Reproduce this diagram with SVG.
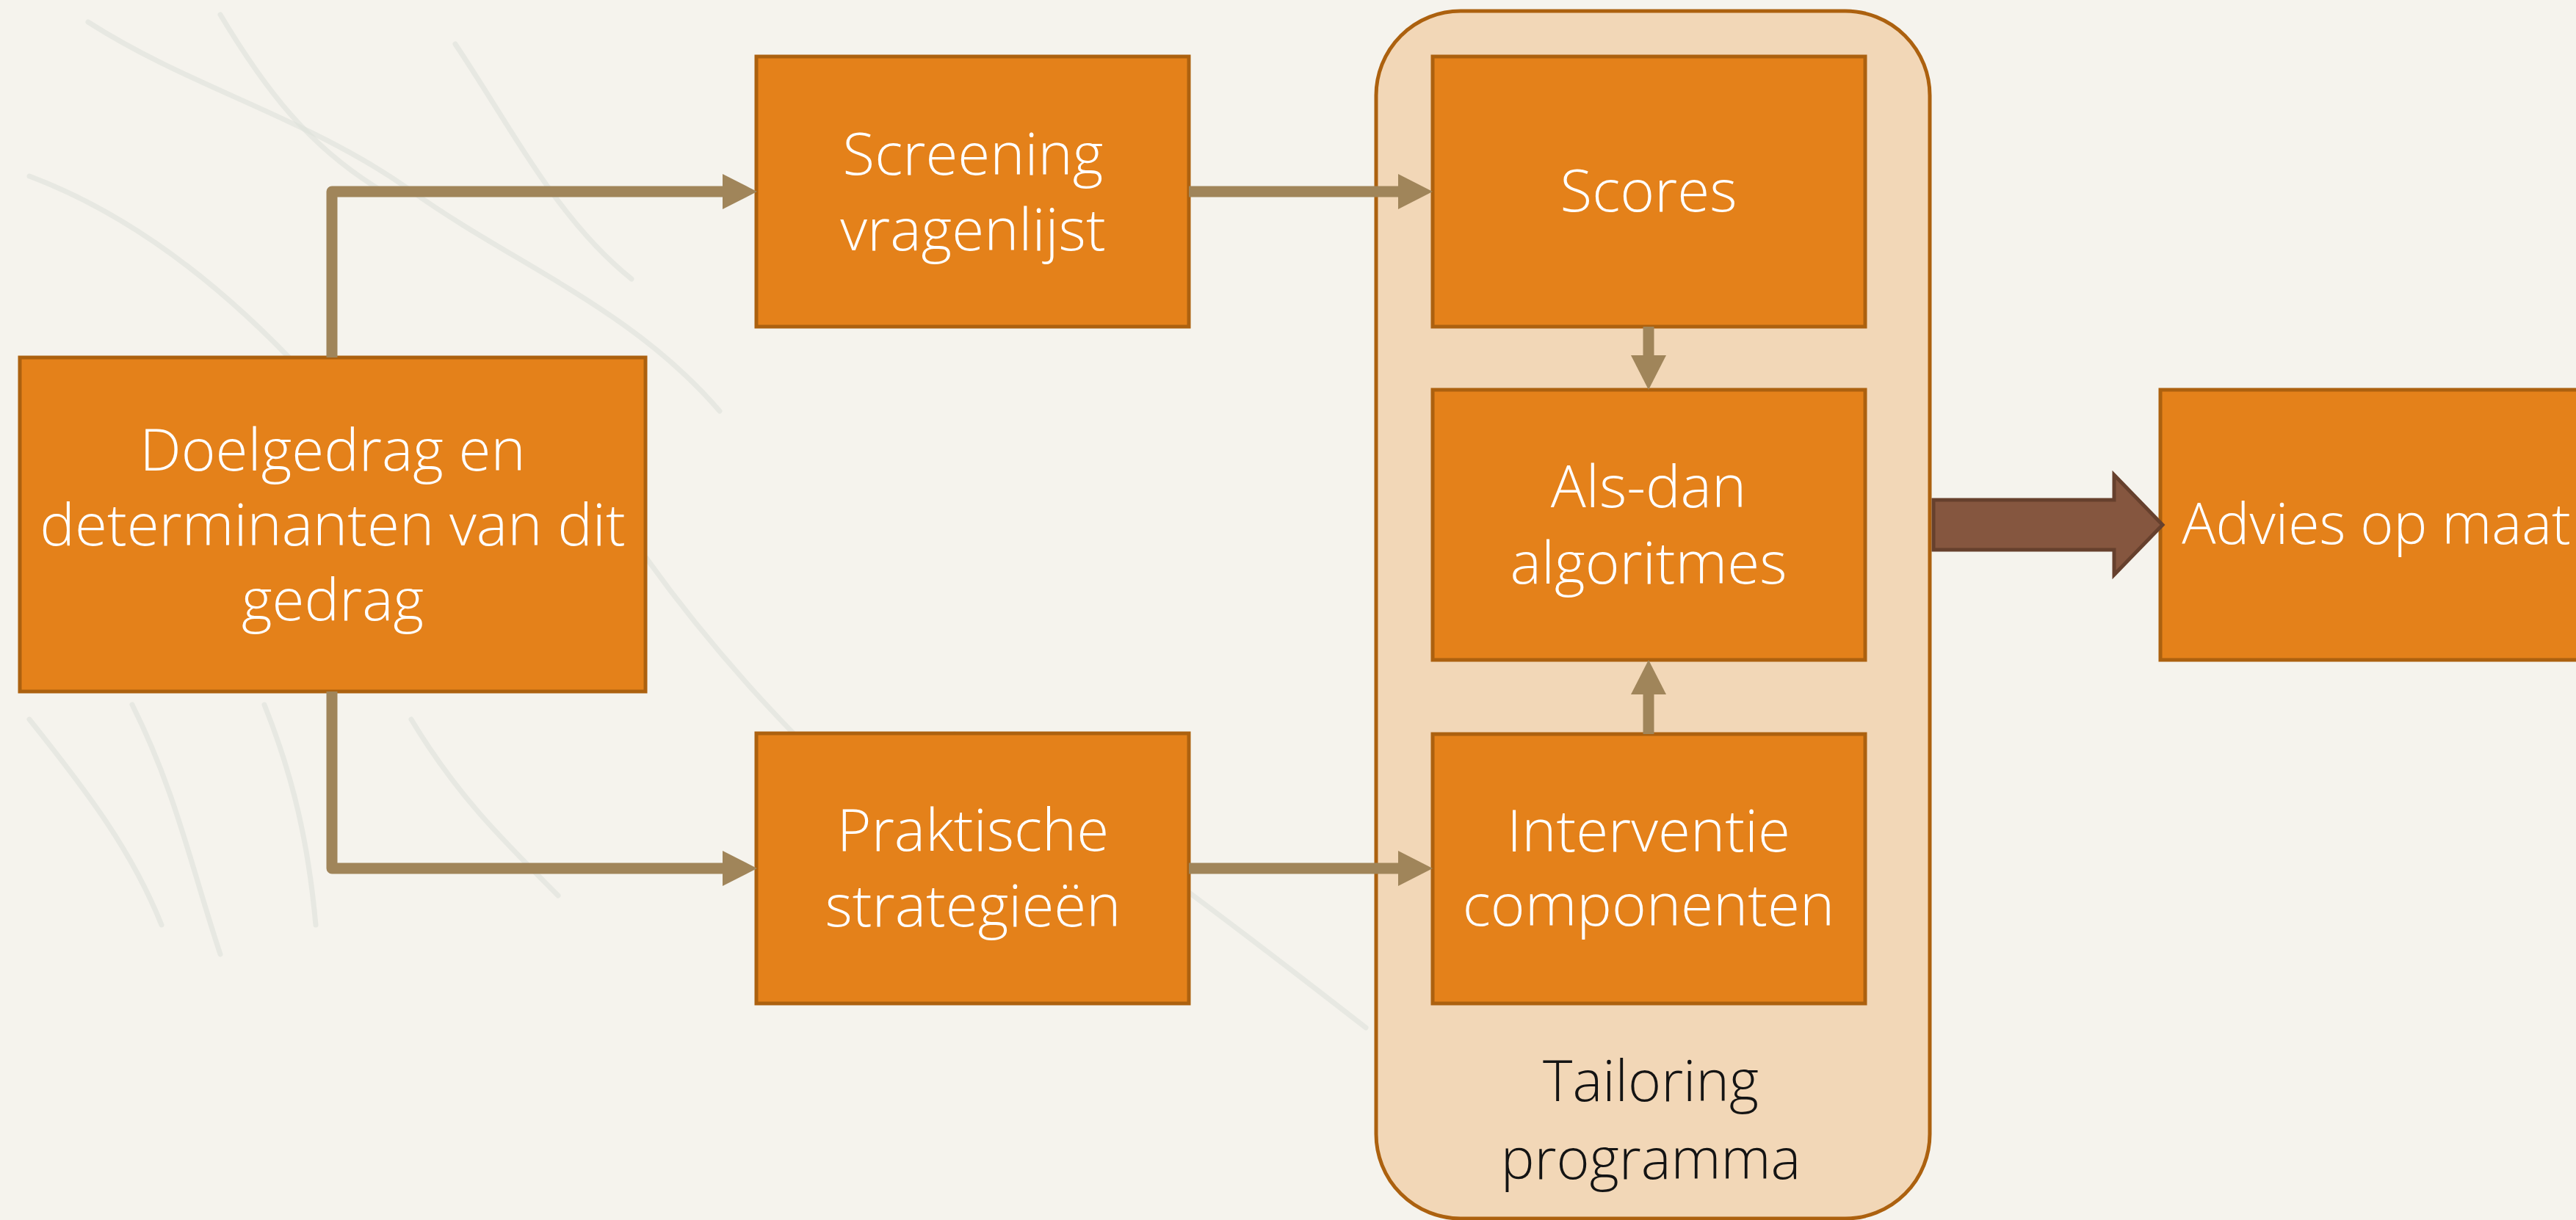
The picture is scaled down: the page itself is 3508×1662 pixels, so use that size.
<svg xmlns="http://www.w3.org/2000/svg" width="3508" height="1662" viewBox="0 0 3508 1662">
  <style>
    .box { fill: #E4811A; stroke: #AC610F; stroke-width: 5; }
    .lbl { font-family: "Open Sans", "Liberation Sans", sans-serif; font-weight: 300; font-size: 80px; fill: #FFFFFF; text-anchor: middle; }
    .dark { fill: #141414; font-size: 77px; }
    .conn { fill: none; stroke: #A0855A; stroke-width: 15; stroke-linejoin: round; }
    .head { fill: #A0855A; }
    .sketch { fill: none; stroke: #DDE1DB; stroke-width: 7; stroke-linecap: round; opacity: 0.6; }
  </style>
  <rect x="0" y="0" width="3508" height="1662" fill="#F5F3ED"/>
  <g id="background-sketch">
    <path class="sketch" d="M120 30 C260 120 420 160 560 260 C700 360 860 420 980 560"/>
    <path class="sketch" d="M40 240 C200 300 340 420 460 560"/>
    <path class="sketch" d="M300 20 C360 120 420 200 520 260"/>
    <path class="sketch" d="M620 60 C700 180 760 300 860 380"/>
    <path class="sketch" d="M40 980 C120 1080 180 1160 220 1260"/>
    <path class="sketch" d="M180 960 C240 1080 260 1180 300 1300"/>
    <path class="sketch" d="M360 960 C400 1060 420 1150 430 1260"/>
    <path class="sketch" d="M560 980 C620 1080 680 1140 760 1220"/>
    <path class="sketch" d="M880 760 C980 900 1080 1000 1160 1080"/>
    <path class="sketch" d="M1300 1000 C1500 1120 1680 1260 1860 1400"/>
  </g>
  <g id="tailoring-programma">
    <rect x="1874" y="15" width="754" height="1645" rx="115" ry="115" fill="#F2D7B7" stroke="#AC610F" stroke-width="5"/>
    <text class="lbl dark" x="2248" y="1500">Tailoring</text>
    <text class="lbl dark" x="2248" y="1606">programma</text>
  </g>
  <g id="doelgedrag">
    <rect class="box" x="27" y="487" width="852" height="455"/>
    <text class="lbl" x="453" y="641">Doelgedrag en</text>
    <text class="lbl" x="453" y="743">determinanten van dit</text>
    <text class="lbl" x="453" y="845">gedrag</text>
  </g>
  <g id="screening">
    <rect class="box" x="1030" y="77" width="589" height="368"/>
    <text class="lbl" x="1325" y="238">Screening</text>
    <text class="lbl" x="1325" y="341">vragenlijst</text>
  </g>
  <g id="praktische">
    <rect class="box" x="1030" y="999" width="589" height="368"/>
    <text class="lbl" x="1325" y="1159">Praktische</text>
    <text class="lbl" x="1325" y="1262">strategieën</text>
  </g>
  <g id="scores">
    <rect class="box" x="1951" y="77" width="589" height="368"/>
    <text class="lbl" x="2245" y="288">Scores</text>
  </g>
  <g id="als-dan">
    <rect class="box" x="1951" y="531" width="589" height="368"/>
    <text class="lbl" x="2245" y="691">Als-dan</text>
    <text class="lbl" x="2245" y="795">algoritmes</text>
  </g>
  <g id="interventie">
    <rect class="box" x="1951" y="1000" width="589" height="367"/>
    <text class="lbl" x="2245" y="1160">Interventie</text>
    <text class="lbl" x="2245" y="1261">componenten</text>
  </g>
  <g id="advies">
    <rect class="box" x="2942" y="531" width="589" height="368"/>
    <text class="lbl" x="3236" y="741" style="font-size:77px">Advies op maat</text>
  </g>
  <g id="connectors">
    <path class="conn" d="M452 487 V261 H985"/>
    <polygon class="head" points="984,237 1031,261 984,285"/>
    <path class="conn" d="M452 942 V1183 H985"/>
    <polygon class="head" points="984,1159 1031,1183 984,1207"/>
    <path class="conn" d="M1619 261 H1906"/>
    <polygon class="head" points="1904,237 1951,261 1904,285"/>
    <path class="conn" d="M1619 1183 H1906"/>
    <polygon class="head" points="1904,1159 1951,1183 1904,1207"/>
    <path class="conn" d="M2245 445 V486"/>
    <polygon class="head" points="2221,484 2245,531 2269,484"/>
    <path class="conn" d="M2245 1000 V944"/>
    <polygon class="head" points="2221,946 2245,899 2269,946"/>
    <polygon points="2633,681 2879,681 2879,647 2945,715 2879,783 2879,749 2633,749" fill="#85563F" stroke="#66402D" stroke-width="5" stroke-linejoin="miter"/>
  </g>
</svg>
